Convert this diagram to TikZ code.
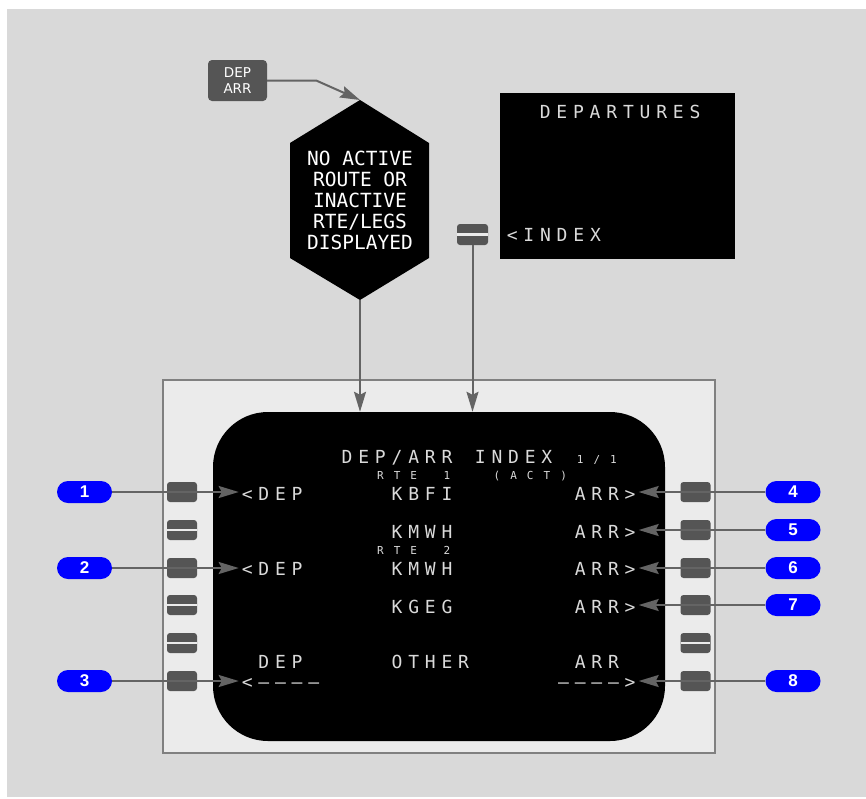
\documentclass[tikz,border=0pt]{standalone}
\usepackage{fontspec}
\setmainfont{DejaVu Sans}
\newfontfamily\cdufont{DejaVu Sans Mono}
\newfontfamily\pillfont{Liberation Sans}
\usetikzlibrary{arrows.meta,positioning}
\definecolor{bggray}{RGB}{217,217,217}
\definecolor{bezelfill}{RGB}{235,235,235}
\definecolor{bezelline}{RGB}{128,128,128}
\definecolor{keygray}{RGB}{85,85,85}
\definecolor{linegray}{RGB}{100,100,100}
\definecolor{pillblue}{RGB}{0,0,255}
\definecolor{cdutext}{RGB}{218,218,218}
% one CDU character per cell
\newcommand{\cdupitch}{16.65pt}
\def\cduend{CDUEND}
\def\cduloop#1{\ifx#1\cduend\else\makebox[\cdupitch]{#1}\expandafter\cduloop\fi}
\newcommand{\cdu}[1]{\cduloop#1\cduend}

\begin{document}
\begin{tikzpicture}[x=1pt, y=-1pt,
  lsk/.style={fill=keygray, rounded corners=3pt, minimum width=30pt,
              minimum height=20pt, inner sep=0pt},
  lskblank/.style={lsk, path picture={\draw[bezelfill, line width=2.5pt]
              (path picture bounding box.west) -- (path picture bounding box.east);}},
  pill/.style={fill=pillblue, rounded corners=11pt, minimum width=55pt,
              minimum height=22pt, inner sep=0pt, text=white,
              font=\pillfont\bfseries\fontsize{17}{17}\selectfont},
  cdubig/.style={inner sep=0pt, anchor=base west, text=cdutext,
              font=\cdufont\fontsize{18}{18}\selectfont},
  cdusmall/.style={cdubig, font=\cdufont\fontsize{11}{11}\selectfont},
  arr/.style={-{Stealth[length=20pt, width=12pt, inset=3pt]}, draw=linegray,
              line width=2pt}]

\useasboundingbox (0,0) rectangle (866,798);
\fill[bggray] (7,9) rectangle (866,797);

% mode key and hexagon
\node[fill=keygray, rounded corners=4pt, minimum width=59pt, minimum height=41pt,
      inner sep=0pt, text=white, align=center,
      font=\fontsize{13.5}{16}\selectfont] (deparr) at (237.5,80.5) {DEP\\ARR};
\coordinate (hextop) at (360,100);
\coordinate (hexbot) at (360,300);
\fill (hextop) -- (429,143) -- (429,258) -- (hexbot) -- (290,258) -- (290,143) -- cycle;
\node[text=white, align=center, font=\cdufont\fontsize{19.5}{21}\selectfont]
      (hexlabel) at (360,200) {NO ACTIVE\\ROUTE OR\\INACTIVE\\RTE/LEGS\\DISPLAYED};

% departures page
\node[fill=black, minimum width=235pt, minimum height=166pt, inner sep=0pt]
      (depscreen) at (617.5,175.5) {};
\node[cdubig] (deptitle) at (536.7,118) {\cdu{DEPARTURES}};
\node[cdubig] (depindex) at (503.7,241) {\cdu{<INDEX}};
\node[lskblank, minimum width=31pt, minimum height=21pt] (idxkey) at (472.5,234.5) {};

% CDU
\node[draw=bezelline, fill=bezelfill, line width=2pt, minimum width=552pt,
      minimum height=373pt, inner sep=0pt] (bezel) at (439,566.5) {};
\node[fill=black, rounded corners=55pt, minimum width=452pt, minimum height=329pt,
      inner sep=0pt] (screen) at (439,576.5) {};

\node[lsk]      (l1) at (182,492) {};
\node[lskblank] (l2) at (182,530) {};
\node[lsk]      (l3) at (182,568) {};
\node[lskblank] (l4) at (182,605) {};
\node[lskblank] (l5) at (182,643) {};
\node[lsk]      (l6) at (182,681) {};
\node[lsk]      (r1) at (695.5,492) {};
\node[lsk]      (r2) at (695.5,530) {};
\node[lsk]      (r3) at (695.5,568) {};
\node[lsk]      (r4) at (695.5,605) {};
\node[lskblank] (r5) at (695.5,643) {};
\node[lsk]      (r6) at (695.5,681) {};

% page text
\node[cdubig]   (title)  at (338.6,463)  {\cdu{DEP/ARR~INDEX}};
\node[cdusmall] (page)   at (571.7,463)  {\cdu{1/1}};
\node[cdusmall] (rte1)   at (371.9,479)  {\cdu{RTE~1}};
\node[cdusmall] (act)    at (488.45,479) {\cdu{(ACT)}};
\node[cdubig]   (dep1)   at (238.7,500)  {\cdu{<DEP}};
\node[cdubig]   (kbfi)   at (388.55,500) {\cdu{KBFI}};
\node[cdubig]   (arr1)   at (571.7,500)  {\cdu{ARR>}};
\node[cdubig]   (kmwh1)  at (388.55,538) {\cdu{KMWH}};
\node[cdubig]   (arr2)   at (571.7,538)  {\cdu{ARR>}};
\node[cdusmall] (rte2)   at (371.9,554)  {\cdu{RTE~2}};
\node[cdubig]   (dep2)   at (238.7,575.5)  {\cdu{<DEP}};
\node[cdubig]   (kmwh2)  at (388.55,575.5) {\cdu{KMWH}};
\node[cdubig]   (arr3)   at (571.7,575.5)  {\cdu{ARR>}};
\node[cdubig]   (kgeg)   at (388.55,613) {\cdu{KGEG}};
\node[cdubig]   (arr4)   at (571.7,613)  {\cdu{ARR>}};
\node[cdubig]   (deplbl) at (255.35,668) {\cdu{DEP}};
\node[cdubig]   (other)  at (388.55,668) {\cdu{OTHER}};
\node[cdubig]   (arrlbl) at (571.7,668)  {\cdu{ARR}};
\node[cdubig]   (dep3)   at (238.7,688.5)  {\cdu{<––––}};
\node[cdubig]   (arr6)   at (555.05,688.5) {\cdu{––––>}};

% callouts
\node[pill] (c1) at (84.5,492) {1};
\node[pill] (c2) at (84.5,568) {2};
\node[pill] (c3) at (84.5,681) {3};
\node[pill] (c4) at (793,492) {4};
\node[pill] (c5) at (793,530) {5};
\node[pill] (c6) at (793,568) {6};
\node[pill] (c7) at (793,605) {7};
\node[pill] (c8) at (793,681) {8};

\draw[arr] (deparr.east) -- ++(49,0) -- (hextop);
\draw[arr] (hexbot) -- (hexbot |- screen.north);
\draw[arr] (idxkey.south) -- (idxkey.south |- screen.north);
\draw[arr] (c1.east) -- (c1.east -| dep1.west);
\draw[arr] (c2.east) -- (c2.east -| dep2.west);
\draw[arr] (c3.east) -- (c3.east -| dep3.west);
\draw[arr] (c4.west) -- (c4.west -| arr1.east);
\draw[arr] (c5.west) -- (c5.west -| arr2.east);
\draw[arr] (c6.west) -- (c6.west -| arr3.east);
\draw[arr] (c7.west) -- (c7.west -| arr4.east);
\draw[arr] (c8.west) -- (c8.west -| arr6.east);
\end{tikzpicture}
\end{document}
